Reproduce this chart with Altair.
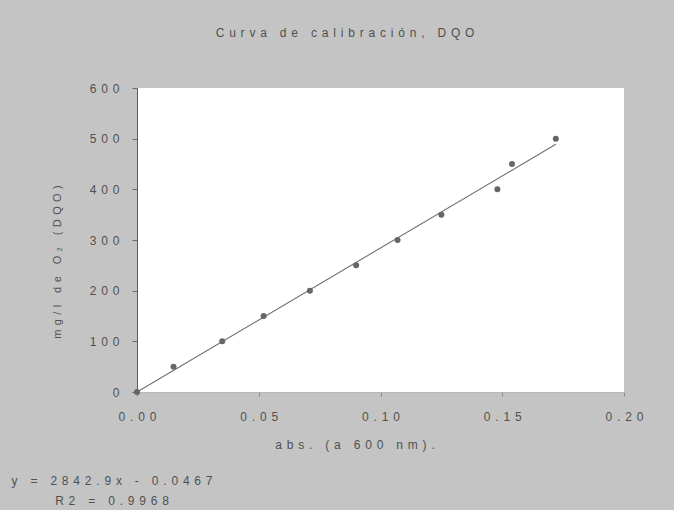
import altair as alt
import pandas as pd

# Calibration points
abs_vals = [0.000, 0.015, 0.035, 0.052, 0.071, 0.090, 0.107, 0.125, 0.148, 0.154, 0.172]
dqo_vals = [0, 50, 100, 150, 200, 250, 300, 350, 400, 450, 500]

# Linear trend line (as printed on the chart)
slope = 2842.9
intercept = -0.0467
eq_lines = ["y = 2842.9x - 0.0467", "R2 = 0.9968"]

title_text = "Curva de calibración, DQO"
x_title = "abs. (a 600 nm)."
y_title = "mg/l de O₂ (DQO)"

x_ticks = [0.0, 0.05, 0.10, 0.15, 0.20]
y_ticks = [0, 100, 200, 300, 400, 500, 600]

FONT = "Liberation Sans"
TXT = "#505050"
W, H = 487, 304
GAP = "\u2009\u2009"

df = pd.DataFrame({"abs": abs_vals, "dqo": dqo_vals})
line_df = pd.DataFrame({"abs": [min(abs_vals), max(abs_vals)]})

spaced = f"join(split(datum.label, ''), '{GAP}')"

xs = alt.Scale(domain=[0, 0.20], nice=False, zero=True)
ys = alt.Scale(domain=[0, 600], nice=False)

x_axis = alt.Axis(values=x_ticks, format=".2f", title=None, grid=False,
                  labelExpr=spaced, labelFont=FONT, labelFontSize=12, labelColor=TXT,
                  labelPadding=15, tickSize=4, tickColor="#8a8a8a",
                  domainColor="#b8b8b8", labelFlush=False)
y_axis = alt.Axis(values=y_ticks, format="d", title=None, grid=False,
                  labelExpr=spaced, labelFont=FONT, labelFontSize=12, labelColor=TXT,
                  labelPadding=13, tickSize=5, tickColor="#6a6a6a",
                  domainColor="#5a5a5a", labelFlush=False)

points = alt.Chart(df).mark_circle(size=36, color="#666666", opacity=1).encode(
    x=alt.X("abs:Q", scale=xs, axis=x_axis),
    y=alt.Y("dqo:Q", scale=ys, axis=y_axis),
)

trend = alt.Chart(line_df).transform_calculate(
    fit=f"{slope} * datum.abs + ({intercept})"
).mark_line(color="#707070", strokeWidth=1.1).encode(
    x=alt.X("abs:Q", scale=xs),
    y=alt.Y("fit:Q", scale=ys),
)

def label(text, x, y, align="center", angle=0, size=12):
    kw = dict(text=text, align=align, baseline="middle", font=FONT,
              fontSize=size, color=TXT)
    if angle:
        kw["angle"] = angle
    return alt.Chart(pd.DataFrame({"t": [text]})).mark_text(**kw).encode(
        x=alt.value(x), y=alt.value(y)
    )

def sp(s):
    return GAP.join(list(s))

title = label(sp(title_text), 208, -55, size=12)
xt = label(sp(x_title), 218, 357, size=12)
yt = label(sp(y_title), -79, 174, angle=270, size=11)
eq1 = label(sp(eq_lines[0]), -25, 393, size=12)
eq2 = label(sp(eq_lines[1]), -25, 413, size=12)

chart = alt.layer(trend, points, title, xt, yt, eq1, eq2).properties(
    width=W, height=H,
    autosize=alt.AutoSizeParams(type="none"),
    padding={"left": 137, "top": 88, "right": 50, "bottom": 118},
    background="#c4c4c4",
).configure_view(fill="white", stroke=None)

chart.save("out.html", embed_options={"renderer": "svg", "actions": False})
